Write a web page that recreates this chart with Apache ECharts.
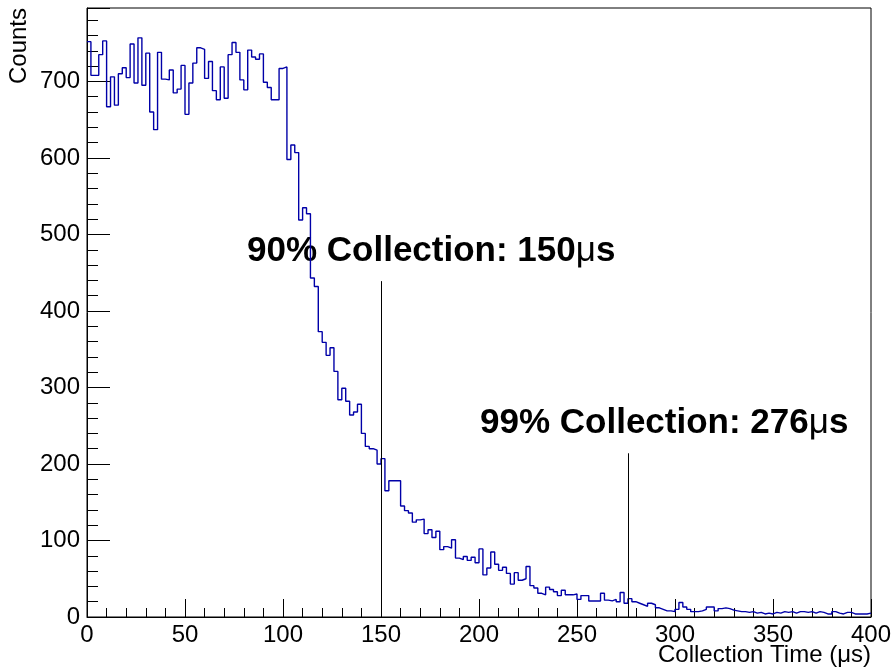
<!DOCTYPE html>
<html>
<head>
<meta charset="utf-8">
<script src="https://cdn.jsdelivr.net/npm/echarts@6/dist/echarts.min.js"></script>
<style>
	html, body { margin: 0; padding: 0; background: #fff; }
	#main { width: 894px; height: 669px; }
</style>
</head>
<body>
<div id="main"></div>
<script>
// histogram: 200 bins of 2 us from 0 to 400
var binStart = 0;
var binWidth = 2;
var counts = [
	752, 708, 708, 735, 753, 667, 706, 669, 710, 718,
	705, 749, 698, 757, 695, 737, 660, 637, 738, 703,
	702, 715, 685, 690, 721, 657, 698, 724, 744, 742,
	704, 726, 688, 676, 719, 678, 735, 751, 738, 702,
	689, 741, 732, 729, 736, 699, 692, 676, 676, 717,
	719, 598, 617, 607, 519, 535, 527, 443, 432, 373,
	359, 342, 352, 321, 284, 299, 282, 264, 268, 278,
	240, 223, 220, 218, 200, 207, 165, 178, 178, 178,
	145, 139, 136, 124, 127, 128, 109, 114, 104, 112,
	88, 92, 90, 101, 77, 75, 79, 74, 78, 71,
	89, 55, 64, 85, 69, 61, 65, 57, 43, 58,
	48, 50, 66, 41, 38, 31, 29, 39, 36, 33,
	28, 35, 29, 29, 30, 23, 28, 28, 21, 21,
	21, 31, 22, 21, 23, 20, 32, 18, 24, 20,
	18, 16, 14, 18, 16, 12, 10, 8, 8, 7,
	10, 19, 13, 10, 7, 7, 8, 10, 13, 13,
	8, 11, 12, 11, 9, 8, 7, 7, 6, 7,
	5, 6, 4, 5, 4, 6, 5, 7, 6, 7,
	5, 7, 7, 6, 7, 5, 7, 6, 4, 4,
	7, 5, 4, 6, 6, 4, 4, 4, 4, 5
];

// collection markers
var markerX = [150, 276];
var markerTop = [439, 214];
var markerPercent = ['90%', '99%'];

var chartDom = document.getElementById('main');
var myChart = echarts.init(chartDom);
var option;

var font = "'Liberation Sans', Arial, Helvetica, sans-serif";

let histData = counts.map(function (c, i) {
	return [binStart + i * binWidth, c];
});
// close the last bin
histData.push([binStart + counts.length * binWidth, counts[counts.length - 1]]);

let markLines = markerX.map(function (x, i) {
	return [{ coord: [x, 0] }, { coord: [x, markerTop[i]] }];
});

function markerLabel(i) {
	return '{b|' + markerPercent[i] + ' Collection: ' + markerX[i] + '}{m|\u03bc}{b|s}';
}

let labelRich = {
	b: { fontFamily: font, fontWeight: 'bold', fontSize: 35, fill: '#000' },
	m: { fontFamily: font, fontSize: 35, fill: '#000' }
};

option = {
	animation: false,
	grid: {
		left: 87,
		right: 23,
		top: 8,
		bottom: 52,
		show: true,
		borderColor: '#000',
		borderWidth: 1,
		outerBoundsMode: 'none'
	},
	xAxis: {
		type: 'value',
		min: 0,
		max: 400,
		interval: 50,
		axisLine: { lineStyle: { color: '#000', width: 1 } },
		axisTick: { inside: true, length: 18, lineStyle: { color: '#000' } },
		minorTick: { show: true, splitNumber: 5, length: 9, lineStyle: { color: '#000' } },
		splitLine: { show: false },
		axisLabel: { color: '#000', fontSize: 24, fontFamily: font, margin: 6 }
	},
	yAxis: {
		type: 'value',
		min: 0,
		max: 796,
		interval: 100,
		axisLine: { show: true, lineStyle: { color: '#000', width: 1 } },
		axisTick: { show: true, inside: true, length: 23, lineStyle: { color: '#000' } },
		minorTick: { show: true, splitNumber: 5, length: 11, lineStyle: { color: '#000' } },
		splitLine: { show: false },
		axisLabel: {
			color: '#000', fontSize: 24, fontFamily: font, margin: 7,
			showMaxLabel: false,
			formatter: function (v) { return v % 100 === 0 ? String(v) : ''; }
		}
	},
	series: [
		{
			name: 'Collection Time',
			type: 'line',
			step: 'end',
			data: histData,
			symbol: 'none',
			silent: true,
			lineStyle: { color: '#0000a8', width: 1.4 },
			markLine: {
				silent: true,
				symbol: 'none',
				animation: false,
				label: { show: false },
				lineStyle: { color: '#000', width: 1, type: 'solid' },
				data: markLines
			}
		}
	],
	graphic: [
		{
			type: 'text',
			x: 247,
			y: 251,
			style: {
				text: markerLabel(0),
				rich: labelRich,
				textVerticalAlign: 'middle'
			}
		},
		{
			type: 'text',
			x: 480,
			y: 423,
			style: {
				text: markerLabel(1),
				rich: labelRich,
				textVerticalAlign: 'middle'
			}
		},
		{
			type: 'text',
			x: 871,
			y: 655,
			style: {
				text: 'Collection Time (\u03bcs)',
				fontFamily: font,
				fontSize: 24,
				fill: '#000',
				textAlign: 'right',
				textVerticalAlign: 'middle'
			}
		},
		{
			type: 'text',
			x: 19,
			y: 8,
			rotation: Math.PI / 2,
			style: {
				text: 'Counts',
				fontFamily: font,
				fontSize: 24,
				fill: '#000',
				textAlign: 'right',
				textVerticalAlign: 'middle'
			}
		}
	]
};

option && myChart.setOption(option);
</script>
</body>
</html>
